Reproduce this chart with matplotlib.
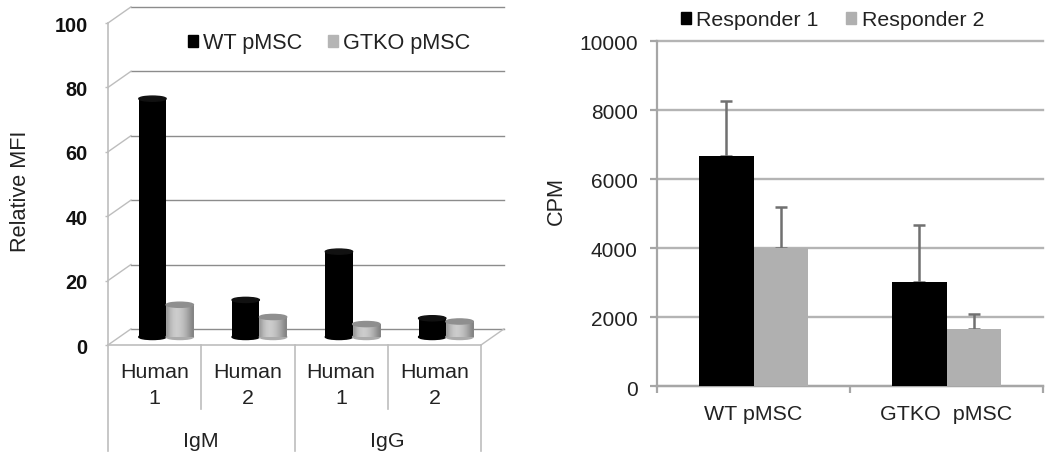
import numpy as np
import matplotlib
matplotlib.use("Agg")
import matplotlib.pyplot as plt
from matplotlib.patches import Ellipse, Patch
from matplotlib.transforms import ScaledTranslation

plt.rcParams['font.family'] = ['Liberation Sans', 'DejaVu Sans']

# left chart
mfi_groups = ["IgM", "IgG"]
mfi_labels = ["Human\n1", "Human\n2", "Human\n1", "Human\n2"]
mfi_wt = [74, 11.5, 26.5, 5.8]
mfi_gtko = [10, 6.2, 4, 4.8]
mfi_ticks = [0, 20, 40, 60, 80, 100]

# right chart
cpm_labels = ["WT pMSC", "GTKO  pMSC"]
cpm_r1 = [6650, 3020]
cpm_r2 = [4000, 1660]
cpm_r1_err = [1600, 1630]
cpm_r2_err = [1190, 425]
cpm_ticks = [0, 2000, 4000, 6000, 8000, 10000]

W, H = 1050, 463
fig = plt.figure(figsize=(W/100, H/100), dpi=100)


def axes_px(x0, x1, y_top, y_bot):
    return fig.add_axes([x0/W, 1-y_bot/H, (x1-x0)/W, (y_bot-y_top)/H])


def nudge(labels, px):
    # the reference labels sit a little lower than matplotlib centres them
    for lab in labels:
        lab.set_transform(lab.get_transform()+ScaledTranslation(0, -px/100, fig.dpi_scale_trans))


ax1 = axes_px(108, 481, 23, 345)
ax1.set_xlim(0, 4)
ax1.set_ylim(0, 100)
for s in ax1.spines.values():
    s.set_visible(False)

# fake 3d depth, in data units
dx = 23/93.25
dy = 5.0
wall = '#8c8c8c'
front = '#bdbdbd'

for v in mfi_ticks:
    ax1.plot([dx, 4+dx], [v+dy, v+dy], color=wall, lw=1, clip_on=False, zorder=1)
    ax1.plot([0, dx], [v, v+dy], color=front, lw=1, clip_on=False, zorder=1)
ax1.plot([4, 4+dx], [0, dy], color=front, lw=1, clip_on=False, zorder=1)
ax1.plot([0, 4], [0, 0], color=front, lw=1.2, clip_on=False, zorder=1)
ax1.plot([0, 0], [0, 100], color=front, lw=1.2, clip_on=False, zorder=1)

# separators below the axis
for x in [0, 1, 2, 3, 4]:
    low = -33 if x in (0, 2, 4) else -20
    ax1.plot([x, x], [0, low], color=front, lw=1.2, clip_on=False, zorder=1)

bw = 0.293
cap = 0.8
shade = np.array([[0.62, 0.72, 0.78, 0.8, 0.78, 0.74, 0.68, 0.6, 0.52]])

for i in range(4):
    cx = i+0.5+dx/2
    base = dy/2
    # black cylinder
    ax1.add_patch(Ellipse((cx-bw/2, base), bw, cap*2, color='black', zorder=3, clip_on=False))
    ax1.bar(cx-bw/2, mfi_wt[i], bw, bottom=base, color='black', zorder=3)
    ax1.add_patch(Ellipse((cx-bw/2, base+mfi_wt[i]), bw, cap*2, color='#111111', zorder=4))
    # gray cylinder
    ax1.add_patch(Ellipse((cx+bw/2, base), bw, cap*2, color='#ababab', zorder=3, clip_on=False))
    ax1.imshow(shade, extent=[cx, cx+bw, base, base+mfi_gtko[i]], aspect='auto', cmap='gray',
               vmin=0, vmax=1, interpolation='bilinear', zorder=3)
    ax1.add_patch(Ellipse((cx+bw/2, base+mfi_gtko[i]), bw, cap*2, color='#8f8f8f', zorder=4))
ax1.set_xlim(0, 4)
ax1.set_ylim(0, 100)

ax1.set_yticks(mfi_ticks)
ax1.set_yticklabels(mfi_ticks, fontsize=14.3, fontweight='bold', color='#111111')
ax1.tick_params(axis='y', length=2.5, width=1, color=front, pad=12)
nudge(ax1.get_yticklabels(), 1)
ax1.set_xticks([0.5, 1.5, 2.5, 3.5])
ax1.set_xticklabels(mfi_labels, fontsize=15.4, color='#222222', linespacing=1.45)
ax1.tick_params(axis='x', length=0, pad=13)
ax1.text(1, -30, mfi_groups[0], fontsize=15.4, color='#222222', ha='center', va='center')
ax1.text(3, -30, mfi_groups[1], fontsize=15.4, color='#222222', ha='center', va='center')
fig.text(20/W, 1-191/H, "Relative MFI", rotation=90, fontsize=15.6, color='#222222', ha='center', va='center')

ax1.legend(handles=[Patch(color='black', label='WT pMSC'), Patch(color='#b5b5b5', label='GTKO pMSC')],
           ncol=2, frameon=False, fontsize=15.6, labelcolor='#222222', loc='center left',
           bbox_to_anchor=(188/W, 1-43/H), bbox_transform=fig.transFigure,
           handlelength=0.46, handleheight=0.46, handletextpad=0.25, columnspacing=1.15,
           borderpad=0, borderaxespad=0)

# right chart
ax2 = axes_px(657, 1043, 40.7, 386)
ax2.set_xlim(0, 2)
ax2.set_ylim(0, 10000)
for k in ['top', 'right']:
    ax2.spines[k].set_visible(False)
for k in ['left', 'bottom']:
    ax2.spines[k].set_color('#a6a6a6')
    ax2.spines[k].set_linewidth(1.6)
ax2.yaxis.grid(True, color='#b4b4b4', lw=1.7, clip_on=False)
ax2.set_axisbelow(True)

x = np.arange(2)+0.5
w = 0.283
err_style = dict(ecolor='#707070', elinewidth=1.8, capsize=4, capthick=1.8)
ax2.bar(x-w/2, cpm_r1, w, color='black', zorder=3)
ax2.bar(x+w/2, cpm_r2, w, color='#b0b0b0', zorder=3)
ax2.errorbar(x-w/2, cpm_r1, yerr=[[0, 0], cpm_r1_err], fmt='none', zorder=2, **err_style)
ax2.errorbar(x+w/2, cpm_r2, yerr=[[0, 0], cpm_r2_err], fmt='none', zorder=2, **err_style)

ax2.set_yticks(cpm_ticks)
ax2.set_yticklabels(cpm_ticks, fontsize=15, color='#222222')
ax2.tick_params(axis='y', length=5, width=1.6, color='#a6a6a6', pad=9)
nudge(ax2.get_yticklabels(), 2)
ax2.set_xticks([0, 1, 2])
ax2.set_xticklabels([])
ax2.tick_params(axis='x', which='major', length=5, width=1.6, color='#a6a6a6')
ax2.set_xticks(x, minor=True)
ax2.set_xticklabels(cpm_labels, minor=True, fontsize=15.4, color='#222222')
ax2.tick_params(axis='x', which='minor', length=0, pad=14)
fig.text(556/W, 1-201/H, "CPM", rotation=90, fontsize=15.6, color='#222222', ha='center', va='center')

ax2.legend(handles=[Patch(color='black', label='Responder 1'), Patch(color='#b0b0b0', label='Responder 2')],
           ncol=2, frameon=False, fontsize=15.4, labelcolor='#222222', loc='center left',
           bbox_to_anchor=(681/W, 1-20/H), bbox_transform=fig.transFigure,
           handlelength=0.46, handleheight=0.46, handletextpad=0.25, columnspacing=1.3,
           borderpad=0, borderaxespad=0)

fig.savefig("out.png", dpi=100)
